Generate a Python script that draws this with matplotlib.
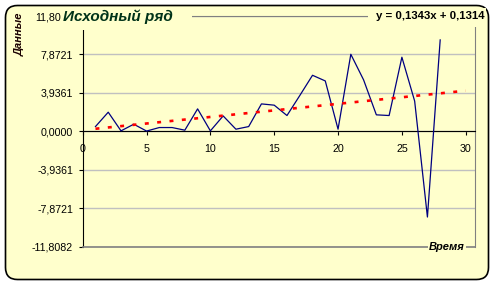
import numpy as np
import matplotlib.pyplot as plt
from matplotlib.patches import FancyBboxPatch, Rectangle

# исходный ряд
t = list(range(1, 29))
vals = [0.49, 1.96, 0.05, 0.73, 0.03, 0.39, 0.39, 0.12, 2.30, 0.05,
        1.58, 0.22, 0.49, 2.81, 2.68, 1.62, 3.66, 5.74, 5.16, 0.22,
        7.89, 5.27, 1.69, 1.62, 7.59, 3.10, -8.77, 9.36]
# линейный тренд
slope, intercept = 0.1343, 0.1314
trend_x = [1, 30]
yticks = [-11.8082, -7.8721, -3.9361, 0.0, 3.9361, 7.8721, 11.8082]
ytick_labels = ['-11,8082', '-7,8721', '-3,9361', '0,0000', '3,9361', '7,8721', '11,8082']
xticks = [0, 5, 10, 15, 20, 25, 30]

bg = '#ffffcc'
W, H = 493, 286
plt.rcParams['font.family'] = ['Liberation Sans', 'DejaVu Sans']

fig = plt.figure(figsize=(W / 100, H / 100), dpi=100)
fig.patch.set_facecolor('white')

# рамка диаграммы со скруглёнными углами (координаты в дюймах = px/100)
frame = FancyBboxPatch((0.055, 0.065), 4.83, 2.74,
                       boxstyle='round,pad=0,rounding_size=0.12',
                       transform=fig.dpi_scale_trans, facecolor=bg,
                       edgecolor='black', lw=1.2, zorder=0)
fig.add_artist(frame)

ax = fig.add_axes([82.7 / W, 1 - 246.7 / H, (475.3 - 82.7) / W, (246.7 - 16) / H])
ax.set_facecolor(bg)
ax.set_xlim(0, 30.75)
ax.set_ylim(-11.8082, 11.8082)

ax.set_yticks(yticks)
ax.set_yticklabels(ytick_labels)
ax.set_xticks(xticks)
ax.grid(axis='y', color='#c0c0c0', lw=1.0)
ax.set_axisbelow(True)

ax.spines['bottom'].set_position(('data', 0))
ax.spines['bottom'].set_color('black')
ax.spines['left'].set_color('black')
for s in ['top', 'right']:
    ax.spines[s].set_color('#808080')
ax.axhline(-11.8082, color='#808080', lw=1.2, clip_on=False, zorder=3)

ax.tick_params(axis='y', direction='out', length=3, width=0.8, pad=4, labelsize=7.7)
ax.tick_params(axis='x', direction='out', length=3, width=0.8, pad=6, labelsize=7.7)

ax.plot(t, vals, color='#000080', lw=0.9, zorder=4, clip_on=False)
tx = np.array(trend_x)
ax.plot(tx, slope * tx + intercept, color='#ff0000', lw=1.9,
        linestyle=(0, (1.5, 3.2)), dash_capstyle='butt', zorder=5)

# подписи с фоном, перекрывающим линии
def patch(x0, y0, x1, y1):
    fig.add_artist(Rectangle((x0 / W, 1 - y1 / H), (x1 - x0) / W, (y1 - y0) / H,
                             transform=fig.transFigure, facecolor=bg,
                             edgecolor='none', zorder=5))

patch(61, 8, 192, 30)
fig.text(63 / W, 1 - 17 / H, 'Исходный ряд', fontsize=11, fontweight='bold',
         fontstyle='italic', color='#003319', va='center', ha='left', zorder=6)

patch(368, 8, 486, 27)
fig.text(485 / W, 1 - 16 / H, 'y = 0,1343x + 0,1314', fontsize=8.2, fontweight='bold',
         color='black', va='center', ha='right', zorder=6)

patch(428, 240, 466, 253)
fig.text(447 / W, 1 - 246.5 / H, 'Время', fontsize=8, fontweight='bold',
         fontstyle='italic', color='black', va='center', ha='center', zorder=6)

fig.text(20 / W, 1 - 12 / H, 'Данные', fontsize=8, fontweight='bold',
         fontstyle='italic', color='#1a0000', va='top', ha='center',
         rotation=90, zorder=6)

fig.savefig('out.png', dpi=100, facecolor='white')
